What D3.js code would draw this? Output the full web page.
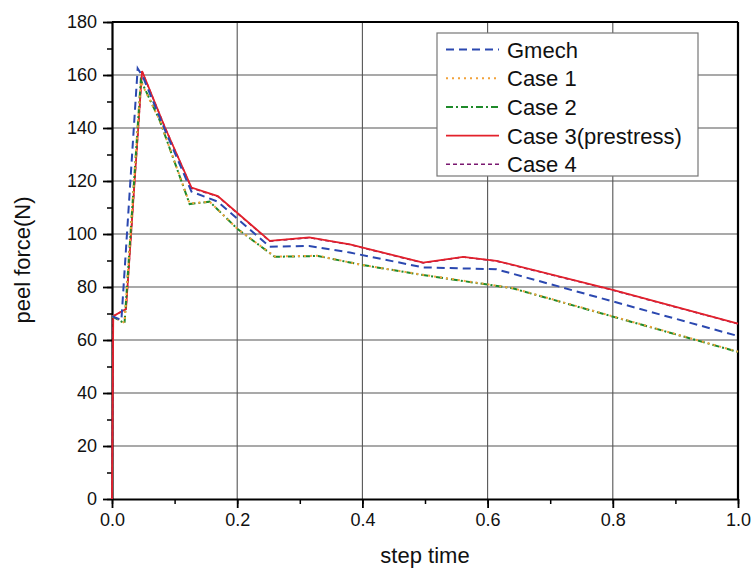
<!DOCTYPE html>
<html>
<head>
<meta charset="utf-8">
<script src="https://cdn.jsdelivr.net/npm/d3@7"></script>
<style>
  body { margin: 0; background: #fff; }
  svg { font-family: "Liberation Sans", Arial, sans-serif; }
</style>
</head>
<body>
<div id="chart"></div>
<script>
// Series values (step time, peel force N)
const gmechT = [0, 0.015, 0.041, 0.05, 0.085, 0.127, 0.169, 0.252, 0.315, 0.38, 0.497, 0.614, 1.0];
const gmechV = [69, 67.5, 162.5, 159, 139, 116, 112.2, 95.2, 95.5, 93, 87.4, 86.7, 61.5];

const case1T = [0, 0.02, 0.046, 0.076, 0.124, 0.156, 0.2, 0.26, 0.329, 0.4, 0.497, 0.64, 1.0];
const case1V = [69, 66.5, 157.5, 143, 111.5, 112.2, 102, 91.5, 91.8, 88.3, 84.6, 79.6, 55.6];

const case2T = [0, 0.02, 0.046, 0.076, 0.124, 0.156, 0.2, 0.26, 0.329, 0.4, 0.497, 0.64, 1.0];
const case2V = [69, 66.3, 158, 143, 111.3, 112.2, 102, 91.4, 91.7, 88.3, 84.5, 79.5, 55.5];

const case3T = [0, 0.002, 0.0224, 0.048, 0.085, 0.127, 0.169, 0.252, 0.315, 0.38, 0.497, 0.561, 0.614, 0.8, 1.0];
const case3V = [0, 69, 71.7, 161.5, 140, 117.5, 114.3, 97.4, 98.7, 96.1, 89.2, 91.4, 89.9, 78.9, 66.2];

const case4T = [0, 0.002, 0.0224, 0.048, 0.085, 0.127, 0.169, 0.252, 0.315, 0.38, 0.497, 0.561, 0.614, 0.8, 1.0];
const case4V = [0, 69, 71.7, 161.3, 140, 117.3, 114.2, 97.3, 98.6, 96, 89.1, 91.3, 89.8, 78.8, 66.1];

const seriesNames = ["Gmech", "Case 1", "Case 2", "Case 3(prestress)", "Case 4"];
const xTicks = [0, 0.2, 0.4, 0.6, 0.8, 1.0];
const yTicks = [0, 20, 40, 60, 80, 100, 120, 140, 160, 180];

// set the dimensions and margins of the graph
let margin = { top: 22, right: 15, bottom: 73, left: 112 };
let width = 753 - margin.left - margin.right;
let height = 572 - margin.top - margin.bottom;

let svg = d3.select("#chart")
    .append("svg")
    .attr("width", 753)
    .attr("height", 572)
    .append("g")
    .attr("transform", "translate(" + margin.left + "," + margin.top + ")");

let x = d3.scaleLinear().domain([0, 1]).range([0, width]);
let y = d3.scaleLinear().domain([0, 180]).range([height, 0]);

// grid lines
svg.append("g")
    .selectAll("line")
    .data(xTicks.slice(1, -1))
    .enter()
    .append("line")
    .attr("x1", d => x(d)).attr("x2", d => x(d))
    .attr("y1", 0).attr("y2", height)
    .attr("stroke", "#555").attr("stroke-width", 1.1);

svg.append("g")
    .selectAll("line")
    .data(yTicks.slice(1, -1))
    .enter()
    .append("line")
    .attr("x1", 0).attr("x2", width)
    .attr("y1", d => y(d)).attr("y2", d => y(d))
    .attr("stroke", "#555").attr("stroke-width", 1.1);

// minor ticks
svg.append("g")
    .attr("transform", "translate(0," + height + ")")
    .call(d3.axisBottom(x).ticks(10).tickSize(5).tickFormat(""))
    .call(g => g.select(".domain").remove())
    .selectAll("line").attr("stroke-width", 1.5);

svg.append("g")
    .call(d3.axisLeft(y).ticks(18).tickSize(5).tickFormat(""))
    .call(g => g.select(".domain").remove())
    .selectAll("line").attr("stroke-width", 1.5);

// Add X axis
let xAxis = svg.append("g")
    .attr("transform", "translate(0," + height + ")")
    .call(d3.axisBottom(x).tickValues(xTicks).tickSize(9).tickSizeOuter(0).tickPadding(5).tickFormat(d3.format(".1f")));
xAxis.select(".domain").attr("stroke-width", 2.2);
xAxis.selectAll("line").attr("stroke-width", 1.8);
xAxis.selectAll("text").style("font-size", "18px").attr("fill", "#111");

// Y axis
let yAxis = svg.append("g")
    .call(d3.axisLeft(y).tickValues(yTicks).tickSize(9).tickSizeOuter(0).tickPadding(6));
yAxis.select(".domain").attr("stroke-width", 2.2);
yAxis.selectAll("line").attr("stroke-width", 1.8);
yAxis.selectAll("text").style("font-size", "18px").attr("fill", "#111");

// top and right frame
svg.append("line").attr("x1", 0).attr("x2", width).attr("y1", 0).attr("y2", 0)
    .attr("stroke", "#000").attr("stroke-width", 2.2);
svg.append("line").attr("x1", width).attr("x2", width).attr("y1", 0).attr("y2", height)
    .attr("stroke", "#000").attr("stroke-width", 2.2);

// axis titles
svg.append("text")
    .attr("x", width / 2)
    .attr("y", height + 64)
    .style("text-anchor", "middle")
    .style("font-size", "22px")
    .attr("fill", "#111")
    .text("step time");

svg.append("text")
    .attr("transform", "rotate(-90)")
    .attr("x", -(260 - margin.top))
    .attr("y", 30 - margin.left)
    .style("text-anchor", "middle")
    .style("font-size", "22px")
    .attr("fill", "#111")
    .text("peel force(N)");

// series styles
const styles = [
    { t: gmechT, v: gmechV, color: "#2b48b0", dash: "8,5", w: 2 },
    { t: case1T, v: case1V, color: "#f2a23a", dash: "2,4", w: 2 },
    { t: case2T, v: case2V, color: "#1e8a2a", dash: "7,3,2,3", w: 2 },
    { t: case3T, v: case3V, color: "#e3212b", dash: null, w: 1.8 },
    { t: case4T, v: case4V, color: "#7a1870", dash: "4,3", w: 1.6 }
];

let line = d3.line().x(d => x(d[0])).y(d => y(d[1]));

// draw order: purple under red, orange over green
[4, 3, 2, 1, 0].forEach(i => {
    let s = styles[i];
    svg.append("path")
        .datum(s.t.map((t, j) => [t, s.v[j]]))
        .attr("fill", "none")
        .attr("stroke", s.color)
        .attr("stroke-width", s.w)
        .attr("stroke-dasharray", s.dash)
        .attr("d", line);
});

// legend
let legend = svg.append("g").attr("transform", "translate(" + (437 - margin.left) + "," + (33 - margin.top) + ")");
legend.append("rect")
    .attr("width", 261).attr("height", 143)
    .attr("fill", "#fff").attr("stroke", "#777").attr("stroke-width", 1.2);

seriesNames.forEach((name, i) => {
    let cy = 16.5 + i * 28.7;
    legend.append("line")
        .attr("x1", 9).attr("x2", 62)
        .attr("y1", cy).attr("y2", cy)
        .attr("stroke", styles[i].color)
        .attr("stroke-width", styles[i].w)
        .attr("stroke-dasharray", styles[i].dash);
    legend.append("text")
        .attr("x", 70)
        .attr("y", cy + 8)
        .style("font-size", "22px")
        .attr("fill", "#111")
        .text(name);
});
</script>
</body>
</html>
